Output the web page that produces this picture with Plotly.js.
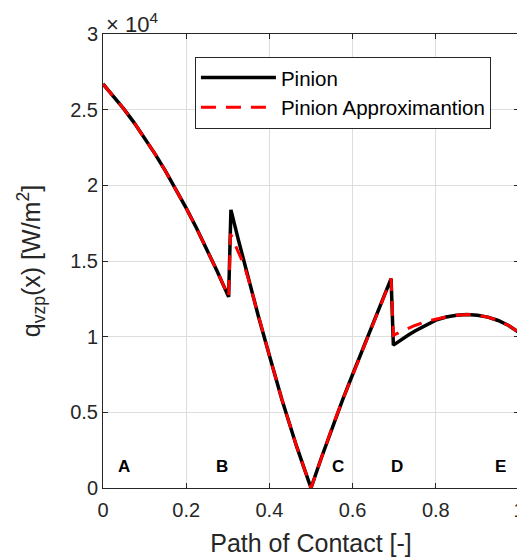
<!DOCTYPE html>
<html>
<head>
<meta charset="utf-8">
<script src="https://cdn.plot.ly/plotly-3.0.1.min.js"></script>
<style>
html,body{margin:0;padding:0;overflow:hidden;background:#fff;}
#chart{width:520px;height:557px;}
</style>
</head>
<body>
<div id="chart"></div>
<script>
// Pinion heat flux along the path of contact [W/m^2]
const pinionX = [0, 0.025, 0.05, 0.075, 0.1, 0.125, 0.15, 0.175, 0.2, 0.225, 0.25, 0.275, 0.302,
  0.3075, 0.325, 0.34, 0.36, 0.374, 0.4, 0.43, 0.465, 0.5,
  0.525, 0.55, 0.575, 0.6, 0.625, 0.65, 0.67, 0.6925,
  0.698, 0.71, 0.72, 0.735, 0.75, 0.775, 0.8, 0.825, 0.85, 0.875, 0.9, 0.925, 0.95, 0.975, 1.0];
const pinionY = [26700, 25910, 25050, 24130, 23140, 22080, 20950, 19760, 18490, 17160, 15760, 14290, 12630,
  18380, 16450, 14820, 12720, 11300, 8750, 5850, 2780, 0,
  2000, 3950, 5750, 7500, 9200, 10880, 12250, 13840,
  9440, 9680, 9870, 10130, 10380, 10760, 11090, 11300, 11420, 11460, 11420, 11290, 11070, 10740, 10280];

const approxX = [0, 0.025, 0.05, 0.075, 0.1, 0.125, 0.15, 0.175, 0.2, 0.225, 0.25, 0.275, 0.302,
  0.3065, 0.324, 0.338, 0.35, 0.36, 0.374, 0.4, 0.43, 0.465, 0.5,
  0.525, 0.55, 0.575, 0.6, 0.625, 0.65, 0.67, 0.6925,
  0.698, 0.71, 0.72, 0.735, 0.75, 0.775, 0.8, 0.825, 0.85, 0.875, 0.9, 0.925, 0.95, 0.975, 1.0];
const approxY = [26700, 25910, 25050, 24130, 23140, 22080, 20950, 19760, 18490, 17160, 15760, 14290, 12630,
  16800, 15660, 14830, 13750, 12720, 11300, 8750, 5850, 2780, 0,
  2000, 3950, 5750, 7500, 9200, 10880, 12250, 13840,
  10100, 10250, 10380, 10560, 10740, 10990, 11170, 11310, 11420, 11460, 11420, 11290, 11070, 10740, 10280];

const seriesNames = ['Pinion', 'Pinion Approximantion'];

const xTicks = [0, 0.2, 0.4, 0.6, 0.8, 1];
const xTickText = ['0', '0.2', '0.4', '0.6', '0.8', '1'];
const yTicks = [0, 5000, 10000, 15000, 20000, 25000, 30000];
const yTickText = ['0', '0.5', '1', '1.5', '2', '2.5', '3'];

const zoneLabels = ['A', 'B', 'C', 'D', 'E'];
const zoneX = [0.05, 0.286, 0.565, 0.706, 0.955];
const zoneY = [1400, 1400, 1400, 1400, 1400];

const FONT = 'Arial, "Liberation Sans", Helvetica, sans-serif';
const AX = '#262626';

const traces = [
  {x: pinionX, y: pinionY, name: seriesNames[0], type: 'scatter', mode: 'lines',
   line: {color: '#000000', width: 3.5}},
  {x: approxX, y: approxY, name: seriesNames[1], type: 'scatter', mode: 'lines',
   line: {color: '#ff0000', width: 3, dash: '15px,10px'}}
];

const annotations = zoneLabels.map((t, i) => ({
  x: zoneX[i], y: zoneY[i], xref: 'x', yref: 'y', text: t, showarrow: false,
  font: {family: FONT, size: 17, color: '#000', weight: 'bold'}
}));
annotations.push({
  xref: 'paper', yref: 'paper', x: 0, y: 1, xanchor: 'left', yanchor: 'bottom',
  xshift: 1, yshift: -5, text: '× 10<sup>4</sup>', showarrow: false,
  font: {family: FONT, size: 22, color: AX}
});

const layout = {
  width: 520, height: 557,
  margin: {l: 103, r: 1, t: 34, b: 69},
  paper_bgcolor: '#fff', plot_bgcolor: '#fff',
  font: {family: FONT, color: AX},
  showlegend: true,
  legend: {
    x: 0.221, y: 0.95, xanchor: 'left', yanchor: 'top',
    bgcolor: '#fff', bordercolor: AX, borderwidth: 1,
    font: {family: FONT, size: 20.5, color: '#000'},
    itemwidth: 75
  },
  xaxis: {
    range: [0, 1], tickvals: xTicks, ticktext: xTickText,
    ticks: 'inside', ticklen: 5, tickcolor: AX, mirror: 'ticks',
    showline: true, linecolor: AX, linewidth: 1,
    showgrid: true, gridcolor: '#dedede', gridwidth: 1, zeroline: false,
    tickfont: {family: FONT, size: 20, color: AX},
    ticklabeloverflow: 'allow', ticklabelstandoff: 4,
    title: {text: 'Path of Contact [-]', font: {family: FONT, size: 25, color: AX}, standoff: 14}
  },
  yaxis: {
    range: [0, 30000], tickvals: yTicks, ticktext: yTickText,
    ticks: 'inside', ticklen: 5, tickcolor: AX, mirror: 'ticks',
    showline: true, linecolor: AX, linewidth: 1,
    showgrid: true, gridcolor: '#dedede', gridwidth: 1, zeroline: false,
    tickfont: {family: FONT, size: 20, color: AX},
    ticklabeloverflow: 'allow',
    title: {text: 'q<sub>vzp</sub>(x) [W/m<sup>2</sup>]', font: {family: FONT, size: 25, color: AX}, standoff: 22}
  },
  annotations: annotations
};

Plotly.newPlot('chart', traces, layout, {displayModeBar: false, staticPlot: true});
</script>
</body>
</html>
